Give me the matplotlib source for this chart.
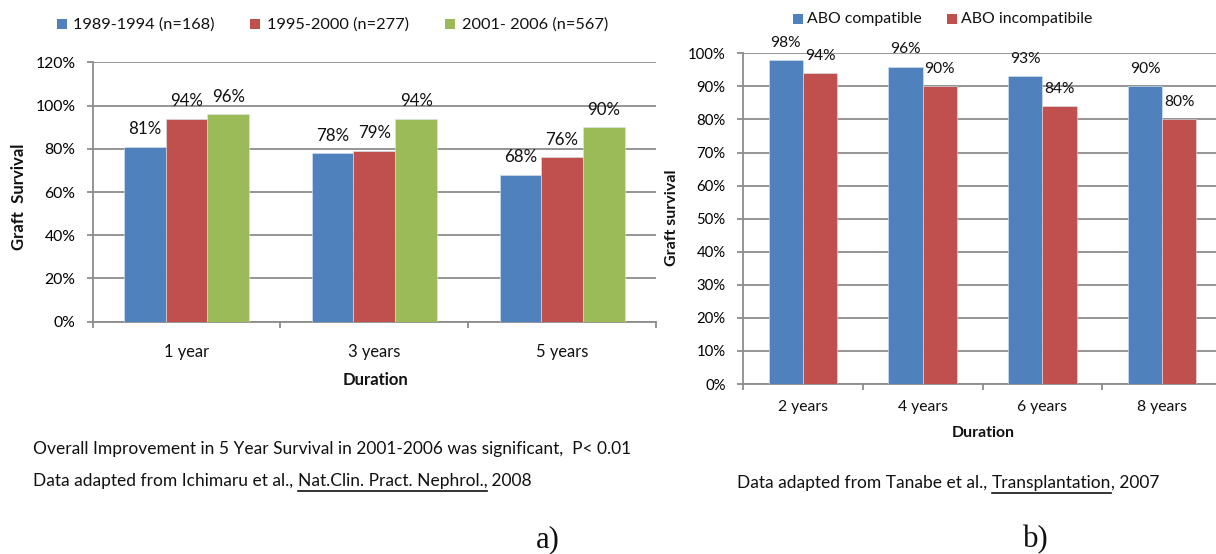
import matplotlib
matplotlib.use("Agg")
import matplotlib.pyplot as plt
from matplotlib.patches import Rectangle
from matplotlib.lines import Line2D
from matplotlib.transforms import blended_transform_factory
import numpy as np

W, H = 1216, 554
FONT = ['Lato', 'DejaVu Sans']
plt.rcParams['font.family'] = FONT

# ---------------- data ----------------
a_categories = ['1 year', '3 years', '5 years']
a_series = ['1989-1994 (n=168)', '1995-2000 (n=277)', '2001- 2006 (n=567)']
a_values_1 = [81, 78, 68]
a_values_2 = [94, 79, 76]
a_values_3 = [96, 94, 90]
a_yticks = [0, 20, 40, 60, 80, 100, 120]

b_categories = ['2 years', '4 years', '6 years', '8 years']
b_series = ['ABO compatible', 'ABO incompatibile']
b_values_1 = [98, 96, 93, 90]
b_values_2 = [94, 90, 84, 80]
b_yticks = [0, 10, 20, 30, 40, 50, 60, 70, 80, 90, 100]

BLUE, RED, GREEN = '#4F81BD', '#C0504D', '#9BBB59'
GRID = '#8C8C8C'

fig = plt.figure(figsize=(W / 100, H / 100), dpi=100)
fig.patch.set_facecolor('white')
renderer = fig.canvas.get_renderer()


def fx(x):
    return x / W


def fy(y):
    return 1 - y / H


def measure(s, size=20, weight='normal', family=None):
    t = fig.text(0, 0, s, fontsize=size, weight=weight, family=family or FONT)
    bb = t.get_window_extent(renderer)
    t.remove()
    return bb.width


def fit(s, target, weight='normal', family=None):
    return 20 * target / measure(s, 20, weight, family)


def style_axes(ax):
    for side in ('top', 'right'):
        ax.spines[side].set_visible(False)
    for side in ('left', 'bottom'):
        ax.spines[side].set_color(GRID)
        ax.spines[side].set_linewidth(1.3)
    ax.set_axisbelow(True)
    ax.yaxis.grid(True, color=GRID, linewidth=1.3)
    ax.tick_params(axis='y', length=4.0, width=1.3, color=GRID, pad=8.5)
    ax.tick_params(axis='x', which='major', length=0, labelbottom=False)
    ax.tick_params(axis='x', which='minor', length=4.5, width=1.3, color=GRID)


# ---------------- chart a ----------------
axA = fig.add_axes([fx(92.7), fy(321.7), fx(656) - fx(92.7), (321.7 - 62.3) / H])
style_axes(axA)
xa = np.arange(len(a_categories))
wa = 1 / 4.5
a_all = [a_values_1, a_values_2, a_values_3]
cols_a = [BLUE, RED, GREEN]
lab_fs = fit('81%', 33)
for i, vals in enumerate(a_all):
    pos = xa + (i - 1) * wa
    axA.bar(pos, vals, width=wa, color=cols_a[i], zorder=3, edgecolor='#DCE6F2', linewidth=0.4)
    for p, v in zip(pos, vals):
        axA.annotate(f'{v}%', (p, v), xytext=(0, 12.6), textcoords='offset points',
                     ha='center', va='center', fontsize=lab_fs, color='#111111')
axA.set_xlim(-0.5, len(a_categories) - 0.5)
axA.set_ylim(0, 120)
axA.set_yticks(a_yticks)
axA.set_yticklabels([f'{v}%' for v in a_yticks])
axA.set_xticks(xa)
axA.set_xticks(np.arange(-0.5, len(a_categories), 1), minor=True)
tick_fs = fit('120%', 40)
for t in axA.get_yticklabels():
    t.set_fontsize(tick_fs)
tr = blended_transform_factory(axA.transData, fig.transFigure)
xl_fs = fit('1 year', 45.5)
for x, c in zip(xa, a_categories):
    axA.text(x, fy(352), c, transform=tr, ha='center', va='center', fontsize=xl_fs, color='#111111')
fig.text(fx(375), fy(380), 'Duration', ha='center', va='center', weight='bold',
         fontsize=fit('Duration', 66, 'bold'), color='#111111')
fig.text(fx(19), fy(197), 'Graft  Survival', ha='center', va='center', rotation=90,
         weight='bold', fontsize=fit('Graft  Survival', 107, 'bold'), color='#111111')

# legend a
leg_fs = fit(a_series[0], 142)
sq_x = [57, 250, 445]
tx_x = [73, 267, 462]
for i, s in enumerate(a_series):
    fig.patches.append(Rectangle((fx(sq_x[i]), fy(29)), 10 / W, 10 / H, transform=fig.transFigure,
                                 facecolor=cols_a[i], edgecolor='none'))
    fig.text(fx(tx_x[i]), fy(24.5), s, ha='left', va='center', fontsize=leg_fs, color='#111111')

# ---------------- chart b ----------------
axB = fig.add_axes([fx(743), fy(384), fx(1222) - fx(743), (384 - 53.3) / H])
style_axes(axB)
xb = np.arange(len(b_categories))
wb = 1 / 3.5
b_all = [b_values_1, b_values_2]
cols_b = [BLUE, RED]
for i, vals in enumerate(b_all):
    pos = xb + (i - 0.5) * wb
    axB.bar(pos, vals, width=wb, color=cols_b[i], zorder=3, edgecolor='#DCE6F2', linewidth=0.4)
    for p, v in zip(pos, vals):
        axB.annotate(f'{v}%', (p, v), xytext=(0, 12.3), textcoords='offset points',
                     ha='center', va='center', fontsize=fit('98%', 30.5), color='#111111')
axB.set_xlim(-0.5, len(b_categories) - 0.5)
axB.set_ylim(0, 100)
axB.set_yticks(b_yticks)
axB.set_yticklabels([f'{v}%' for v in b_yticks])
axB.set_xticks(xb)
axB.set_xticks(np.arange(-0.5, len(b_categories), 1), minor=True)
for t in axB.get_yticklabels():
    t.set_fontsize(fit('100%', 38))
trb = blended_transform_factory(axB.transData, fig.transFigure)
for x, c in zip(xb, b_categories):
    axB.text(x, fy(406.5), c, transform=trb, ha='center', va='center',
             fontsize=fit('2 years', 50), color='#111111')
fig.text(fx(983), fy(433), 'Duration', ha='center', va='center', weight='bold',
         fontsize=fit('Duration', 63, 'bold'), color='#111111')
fig.text(fx(672), fy(218), 'Graft survival', ha='center', va='center', rotation=90,
         weight='bold', fontsize=fit('Graft survival', 96, 'bold'), color='#111111')

legb_fs = fit(b_series[0], 115)
sqb_x = [793, 947]
txb_x = [807, 961]
for i, s in enumerate(b_series):
    fig.patches.append(Rectangle((fx(sqb_x[i]), fy(24)), 10 / W, 10 / H, transform=fig.transFigure,
                                 facecolor=cols_b[i], edgecolor='none'))
    fig.text(fx(txb_x[i]), fy(19), s, ha='left', va='center', fontsize=legb_fs, color='#111111')


# ---------------- captions ----------------
def pieces(x0, y, parts, size):
    x = x0
    for s, ul in parts:
        fig.text(fx(x), fy(y), s, ha='left', va='center', fontsize=size, color='#111111')
        w = measure(s, size)
        if ul:
            fig.lines.append(Line2D([fx(x), fx(x + w)], [fy(y + 9.5), fy(y + 9.5)],
                                    transform=fig.transFigure, color='#111111', linewidth=1.2))
        x += w


cap1 = 'Overall Improvement in 5 Year Survival in 2001-2006 was significant,  P< 0.01'
cap2 = [('Data adapted from Ichimaru et al., ', False),
        ('Nat.Clin. Pract. Nephrol.,', True), (' 2008', False)]
cap3 = [('Data adapted from Tanabe et al., ', False),
        ('Transplantation', True), (', 2007', False)]
s1 = fit(cap1, 560)
s2 = fit(''.join(s for s, _ in cap2), 523)
s3 = fit(''.join(s for s, _ in cap3), 433)
cap_fs = (s1 + s2 + s3) / 3
fig.text(fx(33), fy(449), cap1, ha='left', va='center', fontsize=cap_fs, color='#111111')
pieces(33, 481, cap2, cap_fs)
pieces(737, 483, cap3, cap_fs)

SERIF = ['Liberation Serif', 'DejaVu Serif']
ab_fs = fit('a)', 24, family=SERIF)
fig.text(fx(548), fy(540), 'a)', ha='center', va='center', fontsize=ab_fs, family=SERIF, color='#111111')
fig.text(fx(1036), fy(540), 'b)', ha='center', va='center', fontsize=ab_fs, family=SERIF, color='#111111')

fig.savefig('out.png', dpi=100, facecolor='white')
